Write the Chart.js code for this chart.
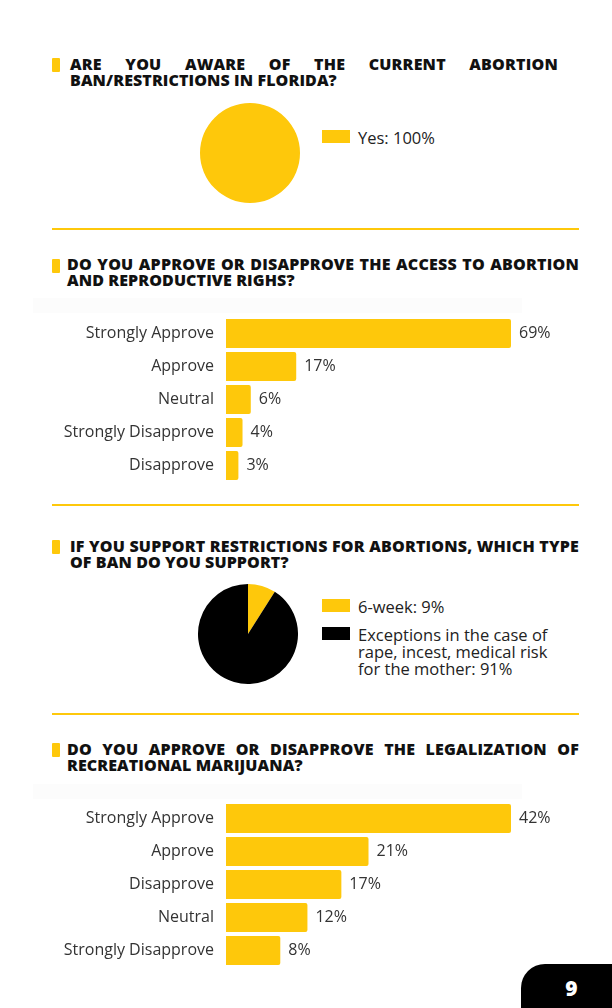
<!DOCTYPE html>
<html>
<head>
<meta charset="utf-8">
<script src="https://cdn.jsdelivr.net/npm/chart.js@4"></script>
<style>
    html, body { margin: 0; padding: 0; background: #fff; }
    body { width: 612px; height: 1008px; position: relative; overflow: hidden; font-family: "Open Sans", sans-serif; color: #222; }
    .abs { position: absolute; }
    .mark { position: absolute; width: 8px; height: 14px; background: #FEC80B; border-radius: 1px; }
    .title { position: absolute; font-family: "Open Sans", sans-serif; font-weight: 800; font-size: 16px; line-height: 16px; letter-spacing: 0.1px; color: #111; white-space: nowrap; }
    .title .l1 { text-align: justify; text-align-last: justify; letter-spacing: 0.2px; }
    .divider { position: absolute; left: 52px; width: 527px; height: 2px; background: #FEC80B; }
    .band { position: absolute; left: 33px; width: 489px; background: #fcfcfc; }
    .legend { position: absolute; font-size: 16.5px; line-height: 17px; color: #222; }
    .legend .item { position: relative; padding-left: 36px; margin-bottom: 11px; }
    .legend .sw { position: absolute; left: 0; top: 1px; width: 28px; height: 13px; }
    .pagebox { position: absolute; left: 521px; top: 964px; width: 91px; height: 44px; background: #000; border-top-left-radius: 24px; color: #fff; font-weight: 800; font-size: 21px; line-height: 48px; text-align: center; box-sizing: border-box; padding-left: 10px; }
</style>
</head>
<body>

<div class="mark" style="left:52px; top:58px;"></div>
<div class="title" style="left:70px; top:56px; width:488px;">
    <div class="l1">ARE YOU AWARE OF THE CURRENT ABORTION</div>
    <div>BAN/RESTRICTIONS IN FLORIDA?</div>
</div>
<canvas id="pieAware" class="abs" width="100" height="100" style="left:200px; top:103px;"></canvas>
<div id="legendAware" class="legend" style="left:322px; top:129px;"></div>
<div class="divider" style="top:228px;"></div>

<div class="mark" style="left:52px; top:259px;"></div>
<div class="title" style="left:67px; top:256px; width:512px;">
    <div class="l1">DO YOU APPROVE OR DISAPPROVE THE ACCESS TO ABORTION</div>
    <div>AND REPRODUCTIVE RIGHS?</div>
</div>
<div class="band" style="top:298px; height:15px;"></div>
<canvas id="barAccess" class="abs" width="527" height="165" style="left:33px; top:317px;"></canvas>
<div class="divider" style="top:504px;"></div>

<div class="mark" style="left:52px; top:540px;"></div>
<div class="title" style="left:70px; top:538px; width:509px;">
    <div class="l1">IF YOU SUPPORT RESTRICTIONS FOR ABORTIONS, WHICH TYPE</div>
    <div>OF BAN DO YOU SUPPORT?</div>
</div>
<canvas id="pieBan" class="abs" width="100" height="100" style="left:198px; top:584px;"></canvas>
<div id="legendBan" class="legend" style="left:322px; top:598px; width:240px;"></div>
<div class="divider" style="top:713px;"></div>

<div class="mark" style="left:52px; top:743px;"></div>
<div class="title" style="left:67px; top:741px; width:512px;">
    <div class="l1">DO YOU APPROVE OR DISAPPROVE THE LEGALIZATION OF</div>
    <div>RECREATIONAL MARIJUANA?</div>
</div>
<div class="band" style="top:784px; height:15px;"></div>
<canvas id="barMarijuana" class="abs" width="527" height="165" style="left:33px; top:802px;"></canvas>

<div class="pagebox">9</div>

<script>
const YELLOW = '#FEC80B';
const BLACK = '#000000';

// Q1 - awareness
const awareLabels = ['Yes'];
const awareValues = [100];

// Q2 - access to abortion
const accessLabels = ['Strongly Approve', 'Approve', 'Neutral', 'Strongly Disapprove', 'Disapprove'];
const accessValues = [69, 17, 6, 4, 3];

// Q3 - type of ban
const banLabels = ['6-week', 'Exceptions in the case of rape, incest, medical risk for the mother'];
const banValues = [9, 91];

// Q4 - recreational marijuana
const marijuanaLabels = ['Strongly Approve', 'Approve', 'Disapprove', 'Neutral', 'Strongly Disapprove'];
const marijuanaValues = [42, 21, 17, 12, 8];

Chart.defaults.font.family = '"Open Sans", sans-serif';
Chart.defaults.animation = false;

// draws "NN%" to the right of every bar
const valueLabels = {
    id: 'valueLabels',
    afterDatasetsDraw(chart) {
        const ctx = chart.ctx;
        const meta = chart.getDatasetMeta(0);
        const values = chart.data.datasets[0].data;
        ctx.save();
        ctx.font = '16px "Open Sans", sans-serif';
        ctx.fillStyle = '#333';
        ctx.textBaseline = 'middle';
        meta.data.forEach((bar, i) => {
            ctx.fillText(values[i] + '%', bar.x + 8, bar.y);
        });
        ctx.restore();
    }
};

function barChart(id, labels, values) {
    return new Chart(document.getElementById(id), {
        type: 'bar',
        data: {
            labels: labels,
            datasets: [{
                data: values,
                backgroundColor: YELLOW,
                borderRadius: 2,
                borderSkipped: 'start',
                categoryPercentage: 1,
                barPercentage: 0.88
            }]
        },
        options: {
            indexAxis: 'y',
            responsive: false,
            layout: { padding: { right: 49, top: 0, bottom: 0, left: 0 } },
            plugins: { legend: { display: false }, tooltip: { enabled: false } },
            scales: {
                x: { display: false, min: 0, max: Math.max(...values) },
                y: {
                    grid: { display: false },
                    border: { display: false },
                    ticks: { color: '#333', font: { size: 16 }, padding: 4 },
                    afterFit(scale) {
                        // fixed label column, no extra room above/below the bars
                        scale.width = 193;
                        scale.paddingTop = 0;
                        scale.paddingBottom = 0;
                    }
                }
            }
        },
        plugins: [valueLabels]
    });
}

function pieChart(id, labels, values, colors) {
    return new Chart(document.getElementById(id), {
        type: 'pie',
        data: {
            labels: labels,
            datasets: [{ data: values, backgroundColor: colors, borderWidth: 0 }]
        },
        options: {
            responsive: false,
            layout: { padding: 0 },
            plugins: { legend: { display: false }, tooltip: { enabled: false } }
        }
    });
}

function buildLegend(id, labels, values, colors) {
    const rows = labels.map((l, i) =>
        `<div class="item"><span class="sw" style="background:${colors[i]}"></span>${l}: ${values[i]}%</div>`
    ).join('');
    document.getElementById(id).innerHTML = rows;
}

pieChart('pieAware', awareLabels, awareValues, [YELLOW]);
buildLegend('legendAware', awareLabels, awareValues, [YELLOW]);

barChart('barAccess', accessLabels, accessValues);

pieChart('pieBan', banLabels, banValues, [YELLOW, BLACK]);
buildLegend('legendBan', banLabels, banValues, [YELLOW, BLACK]);

barChart('barMarijuana', marijuanaLabels, marijuanaValues);
</script>
</body>
</html>
